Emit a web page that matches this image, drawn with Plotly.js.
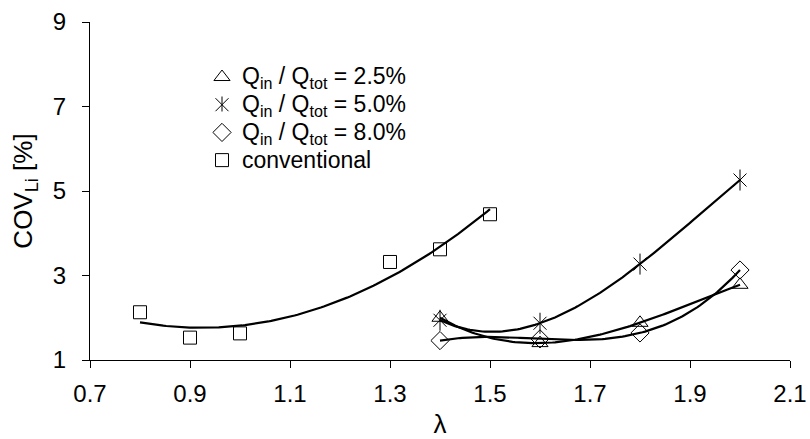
<!DOCTYPE html>
<html>
<head>
<meta charset="utf-8">
<script src="https://cdn.plot.ly/plotly-3.0.1.min.js"></script>
<style>html,body{margin:0;padding:0;background:#fff;}#chart{width:810px;height:439px;}</style>
</head>
<body>
<div id="chart"></div>
<script>
// Data
const lambdaIn = [1.4, 1.6, 1.8, 2.0];
const cov25 = [2.00, 1.40, 1.88, 2.78];
const cov50 = [1.94, 1.87, 3.27, 5.26];
const cov80 = [1.46, 1.50, 1.64, 3.13];
const lambdaConv = [0.8, 0.9, 1.0, 1.3, 1.4, 1.5];
const covConv = [2.13, 1.53, 1.63, 3.32, 3.62, 4.45];
const seriesNames = [
  "Q<sub>in</sub> / Q<sub>tot</sub> = 2.5%",
  "Q<sub>in</sub> / Q<sub>tot</sub> = 5.0%",
  "Q<sub>in</sub> / Q<sub>tot</sub> = 8.0%",
  "conventional"
];
const xTicks = [0.7, 0.9, 1.1, 1.3, 1.5, 1.7, 1.9, 2.1];
const yTicks = [1, 3, 5, 7, 9];

// least-squares polynomial trendline (as in a spreadsheet trendline)
function polyfit(xs, ys, deg) {
  const n = deg + 1;
  const A = [];
  for (let i = 0; i < n; i++) A.push(new Array(n + 1).fill(0));
  for (let k = 0; k < xs.length; k++) {
    for (let i = 0; i < n; i++) {
      for (let j = 0; j < n; j++) A[i][j] += Math.pow(xs[k], i + j);
      A[i][n] += ys[k] * Math.pow(xs[k], i);
    }
  }
  for (let i = 0; i < n; i++) {
    let p = i;
    for (let r = i + 1; r < n; r++) if (Math.abs(A[r][i]) > Math.abs(A[p][i])) p = r;
    [A[i], A[p]] = [A[p], A[i]];
    for (let r = 0; r < n; r++) {
      if (r === i) continue;
      const f = A[r][i] / A[i][i];
      for (let c = i; c <= n; c++) A[r][c] -= f * A[i][c];
    }
  }
  return A.map((row, i) => row[n] / row[i]);
}
function trend(xs, ys, deg) {
  const c = polyfit(xs, ys, deg);
  const x0 = Math.min(...xs), x1 = Math.max(...xs);
  const X = [], Y = [];
  for (let i = 0; i <= 120; i++) {
    const x = x0 + (x1 - x0) * i / 120;
    let y = 0;
    for (let k = 0; k < c.length; k++) y += c[k] * Math.pow(x, k);
    X.push(x); Y.push(y);
  }
  return {x: X, y: Y};
}

const lineStyle = {color: "#000", width: 2.2};
const fits = [
  trend(lambdaIn, cov25, 3),
  trend(lambdaIn, cov50, 3),
  trend(lambdaIn, cov80, 3),
  trend(lambdaConv, covConv, 2)
];
const traces = fits.map(f => ({
  x: f.x, y: f.y, mode: "lines", line: lineStyle, showlegend: false, hoverinfo: "skip"
}));

const big = s => '<span style="font-size:23px">' + s + '</span>';
const mk = (sym, size) => ({symbol: sym, size: size, color: "#000", line: {color: "#000", width: 1}});
traces.push(
  {x: lambdaIn, y: cov25, mode: "markers", name: big(seriesNames[0]), marker: mk("triangle-up-open", 14)},
  {x: lambdaIn, y: cov50, mode: "markers", name: big(seriesNames[1]), marker: mk("x-thin-open", 13)},
  {x: lambdaIn, y: cov50, mode: "markers", showlegend: false, marker: mk("line-ns-open", 15)},
  {x: lambdaIn, y: cov80, mode: "markers", name: big(seriesNames[2]), marker: mk("diamond-open", 14)},
  {x: lambdaConv, y: covConv, mode: "markers", name: big(seriesNames[3]), marker: mk("square-open", 13)}
);

const fam = "Liberation Sans, Arial, sans-serif";
const tickFont = {family: fam, size: 24, color: "#000"};
const titleFont = {family: fam, size: 26, color: "#000"};
const legendFont = {family: fam, size: 19, color: "#000"};

// plot area in pixels: left 90, right 790, top 22, bottom 360
const legendSymX = (222 - 90) / 700;
const legendRow2 = 104;
const layout = {
  width: 810, height: 439,
  margin: {l: 90, r: 20, t: 22, b: 79},
  paper_bgcolor: "#fff", plot_bgcolor: "#fff",
  font: tickFont,
  showlegend: true,
  legend: {x: 0.16, y: 0.893, xanchor: "left", yanchor: "top", bgcolor: "rgba(0,0,0,0)",
           font: legendFont, tracegroupgap: 0},
  shapes: [{type: "line", xref: "paper", yref: "paper", layer: "above",
            x0: legendSymX, x1: legendSymX,
            y0: (360 - (legendRow2 - 7.5)) / 338, y1: (360 - (legendRow2 + 7.5)) / 338,
            line: {color: "#000", width: 1}}],
  xaxis: {
    range: [0.7, 2.1], tickvals: xTicks, ticktext: xTicks.map(v => v.toFixed(1)),
    showgrid: false, zeroline: false, showline: true, linecolor: "#000", linewidth: 1,
    ticks: "outside", ticklen: 7, tickcolor: "#000", tickfont: tickFont, ticklabelstandoff: 5,
    title: {text: "λ", font: titleFont, standoff: 18}
  },
  yaxis: {
    range: [1, 9], tickvals: yTicks, ticktext: yTicks.map(String),
    showgrid: false, zeroline: false, showline: true, linecolor: "#000", linewidth: 1,
    ticks: "outside", ticklen: 7, tickcolor: "#000", tickfont: tickFont, ticklabelstandoff: 11,
    title: {text: "COV<sub>Li</sub> [%]", font: titleFont, standoff: 12}
  }
};
Plotly.newPlot("chart", traces, layout, {displayModeBar: false, staticPlot: true});
</script>
</body>
</html>
